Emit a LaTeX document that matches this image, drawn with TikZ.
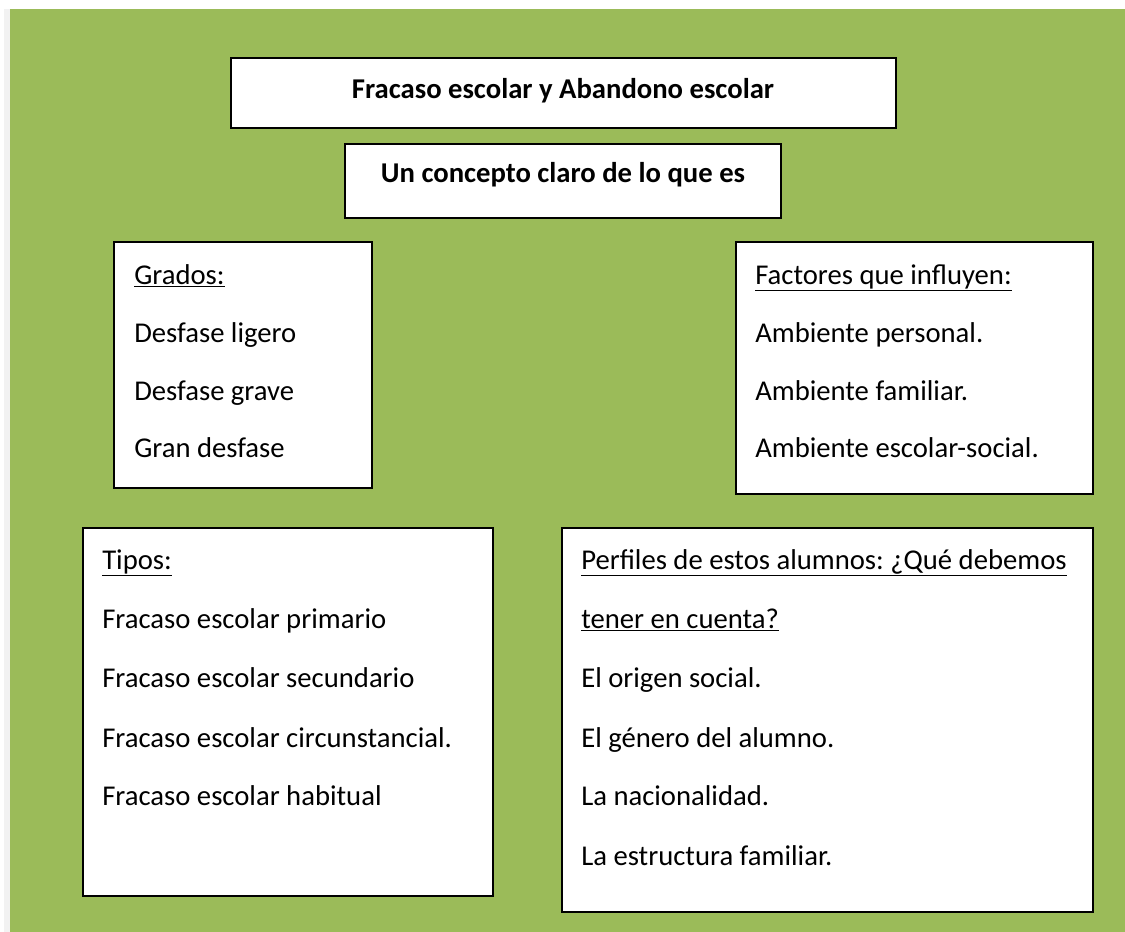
\documentclass[tikz,border=0pt]{standalone}
\usepackage{fontspec}
\setmainfont{Carlito}
\frenchspacing
\definecolor{fondo}{HTML}{9BBB59}
\definecolor{franja}{HTML}{F2F2F2}
\tikzset{caja/.style={draw=black, line width=1.5pt, fill=white},
  texto/.style={anchor=base west, inner sep=0pt, font=\fontsize{21.5}{26}\selectfont},
  titulo/.style={anchor=base, inner sep=0pt, font=\fontsize{21.5}{26}\selectfont\bfseries}}

\begin{document}
\begin{tikzpicture}[x=0.75pt, y=-0.75pt]
\useasboundingbox (0,0) rectangle (1125,932);
\fill[white] (0,0) rectangle (1125,932);
\fill[franja] (4,9) rectangle (10,932);
\fill[fondo] (10,9) rectangle (1125,932);
\draw[caja] (231,58) rectangle (896,128);
\draw (563,98) node[titulo] (fracaso) {Fracaso escolar y Abandono escolar};
\draw[caja] (345,144) rectangle (781,218);
\draw (563,182) node[titulo] (concepto) {Un concepto claro de lo que es};
\draw[caja] (114,242) rectangle (372,488);
\draw (134,284) node[texto] (grados) {\underline{Grados:}};
\draw (134,342) node[texto] (ligero) {Desfase ligero};
\draw (134,400) node[texto] (grave) {Desfase grave};
\draw (134,457) node[texto] (gran) {Gran desfase};
\draw[caja] (736,242) rectangle (1093,494);
\draw (755,284) node[texto] (factores) {\underline{Factores que influyen:}};
\draw (755,342) node[texto] (personal) {Ambiente personal.};
\draw (755,400) node[texto] (familiar) {Ambiente familiar.};
\draw (755,457) node[texto] (social) {Ambiente escolar-social.};
\draw[caja] (83,528) rectangle (493,896);
\draw (102,569) node[texto] (tipos) {\underline{Tipos:}};
\draw (102,628) node[texto] (primario) {Fracaso escolar primario};
\draw (102,687) node[texto] (secundario) {Fracaso escolar secundario};
\draw (102,747) node[texto] (circunstancial) {Fracaso escolar circunstancial.};
\draw (102,805) node[texto] (habitual) {Fracaso escolar habitual};
\draw[caja] (562,528) rectangle (1093,912);
\draw (581,569) node[texto] (perfiles) {\underline{Perfiles de estos alumnos: ¿Qué debemos}};
\draw (581,628) node[texto] (cuenta) {\underline{tener en cuenta?}};
\draw (581,687) node[texto] (origen) {El origen social.};
\draw (581,747) node[texto] (genero) {El género del alumno.};
\draw (581,805) node[texto] (nacionalidad) {La nacionalidad.};
\draw (581,865) node[texto] (estructura) {La estructura familiar.};
\end{tikzpicture}
\end{document}
